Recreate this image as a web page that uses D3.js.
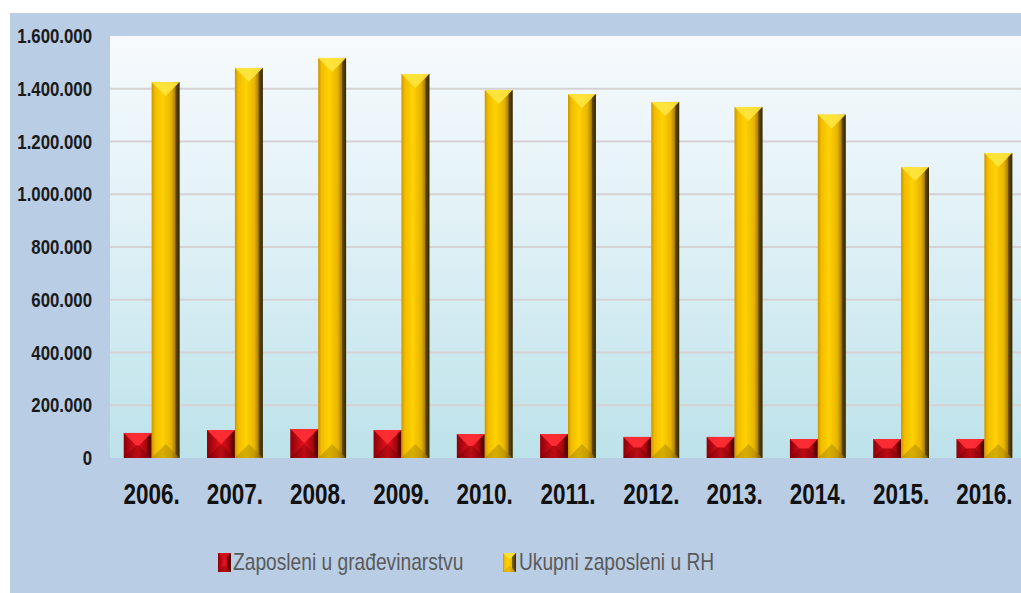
<!DOCTYPE html>
<html>
<head>
<meta charset="utf-8">
<script src="https://cdn.jsdelivr.net/npm/d3@7"></script>
<style>
  html, body { margin: 0; padding: 0; background: #fff; }
  svg { display: block; }
</style>
</head>
<body>
<main></main>
<script>
const years = ['2006.', '2007.', '2008.', '2009.', '2010.', '2011.', '2012.', '2013.', '2014.', '2015.', '2016.']
const construction = [95000, 106000, 110000, 106000, 91000, 91000, 80000, 80000, 72000, 72000, 72000]
const total = [1425000, 1479000, 1517000, 1456000, 1395000, 1380000, 1350000, 1331000, 1302000, 1103000, 1156000]
const seriesNames = ['Zaposleni u građevinarstvu', 'Ukupni zaposleni u RH']
const yTicks = [0, 200000, 400000, 600000, 800000, 1000000, 1200000, 1400000, 1600000]

const W = 1021, H = 593
const plot = {left: 110, top: 36, right: 1026, bottom: 458}

const svg = d3.select('main').append('svg')
  .attr('width', W).attr('height', H)

const defs = svg.append('defs')

const grad = (id, stops, x2 = '100%', y2 = '0%') => {
  const g = defs.append('linearGradient').attr('id', id)
    .attr('x1', '0%').attr('y1', '0%').attr('x2', x2).attr('y2', y2)
  stops.forEach(([o, c]) => g.append('stop').attr('offset', o).attr('stop-color', c))
}
grad('plotBg', [['0%', '#f7fafd'], ['45%', '#e0f1f6'], ['100%', '#bde2ea']], '0%', '100%')
grad('yellowBody', [['0%', '#c99500'], ['12%', '#f2bc00'], ['40%', '#ffd200'], ['70%', '#e8b400'], ['88%', '#9a7200'], ['100%', '#3e2f00']])
grad('redBody', [['0%', '#8c0008'], ['50%', '#e8121e'], ['100%', '#7a0006']])

// outer panel
svg.append('rect').attr('x', 10).attr('y', 13).attr('width', W - 10).attr('height', H - 13)
  .attr('fill', '#b9cde5')

const x0 = d3.scaleBand().domain(years).range([plot.left, plot.right]).paddingInner(0.33).paddingOuter(0.165)
const x1 = d3.scaleBand().domain([0, 1]).range([0, x0.bandwidth()])
const y = d3.scaleLinear().domain([0, 1600000]).range([plot.bottom, plot.top])

svg.append('rect')
  .attr('x', plot.left).attr('y', plot.top)
  .attr('width', W - plot.left).attr('height', plot.bottom - plot.top)
  .attr('fill', 'url(#plotBg)')

// gridlines
svg.append('g').selectAll('line')
  .data(yTicks.slice(1, -1))
  .enter().append('line')
  .attr('x1', plot.left).attr('x2', W)
  .attr('y1', d => y(d)).attr('y2', d => y(d))
  .attr('stroke', '#d6d2d4').attr('stroke-width', 2)

// y tick labels
svg.append('g').selectAll('text')
  .data(yTicks)
  .enter().append('text')
  .attr('transform', d => `translate(92,${y(d) + 7}) scale(0.8,1)`)
  .attr('text-anchor', 'end')
  .attr('font-family', 'Liberation Sans, Arial, sans-serif')
  .attr('font-weight', 'bold').attr('font-size', 21)
  .attr('fill', '#1a1a1a')
  .text(d => d === 0 ? '0' : d3.format(',')(d).replace(/,/g, '.'))

// x tick labels
svg.append('g').selectAll('text')
  .data(years)
  .enter().append('text')
  .attr('transform', d => `translate(${x0(d) + x0.bandwidth() / 2},504) scale(0.75,1)`)
  .attr('text-anchor', 'middle')
  .attr('font-family', 'Liberation Sans, Arial, sans-serif')
  .attr('font-weight', 'bold').attr('font-size', 30)
  .attr('fill', '#111')
  .text(d => d)

// bevelled bar
function bevelBar(g, bx, by, bw, bh, style) {
  const b = Math.min(bw / 2, bh / 2, 14)
  const xa = bx, xb = bx + bw, ya = by, yb = by + bh
  g.append('rect').attr('x', xa).attr('y', ya).attr('width', bw).attr('height', bh)
    .attr('fill', style.body)
  const poly = (pts, fill, op) => g.append('polygon')
    .attr('points', pts.map(p => p.join(',')).join(' '))
    .attr('fill', fill).attr('opacity', op)
  poly([[xa, ya], [xb, ya], [xb - b, ya + b], [xa + b, ya + b]], style.top, 0.9)
  poly([[xa, yb], [xb, yb], [xb - b, yb - b], [xa + b, yb - b]], style.bottom, 0.35)
  poly([[xb, ya], [xb, yb], [xb - Math.min(b, 4), yb - Math.min(b, 4)], [xb - Math.min(b, 4), ya + Math.min(b, 4)]], style.side, 0.55)
}

const styles = [
  {body: 'url(#redBody)', top: '#ff3036', bottom: '#6a0004', side: '#400000'},
  {body: 'url(#yellowBody)', top: '#ffe640', bottom: '#8a6a00', side: '#2e2300'}
]

const bars = svg.append('g')
years.forEach((yr, i) => {
  [construction[i], total[i]].forEach((v, s) => {
    const bx = x0(yr) + x1(s)
    bevelBar(bars, bx, y(v), x1.bandwidth(), plot.bottom - y(v), styles[s])
  })
})

// legend
const legend = svg.append('g')
const legendItems = [{x: 218, tx: 233}, {x: 503, tx: 519}]
seriesNames.forEach((name, s) => {
  const it = legendItems[s]
  bevelBar(legend, it.x, 553, 13, 19, {
    body: s === 0 ? 'url(#redBody)' : 'url(#yellowBody)',
    top: s === 0 ? '#d0101a' : '#ffe640',
    bottom: s === 0 ? '#6a0004' : '#c09000',
    side: s === 0 ? '#400000' : '#2e2300'
  })
  legend.append('text')
    .attr('transform', `translate(${it.tx},570) scale(0.8,1)`)
    .attr('font-family', 'Liberation Sans, Arial, sans-serif')
    .attr('font-size', 24)
    .attr('fill', '#5a5a5a')
    .text(name)
})
</script>
</body>
</html>
